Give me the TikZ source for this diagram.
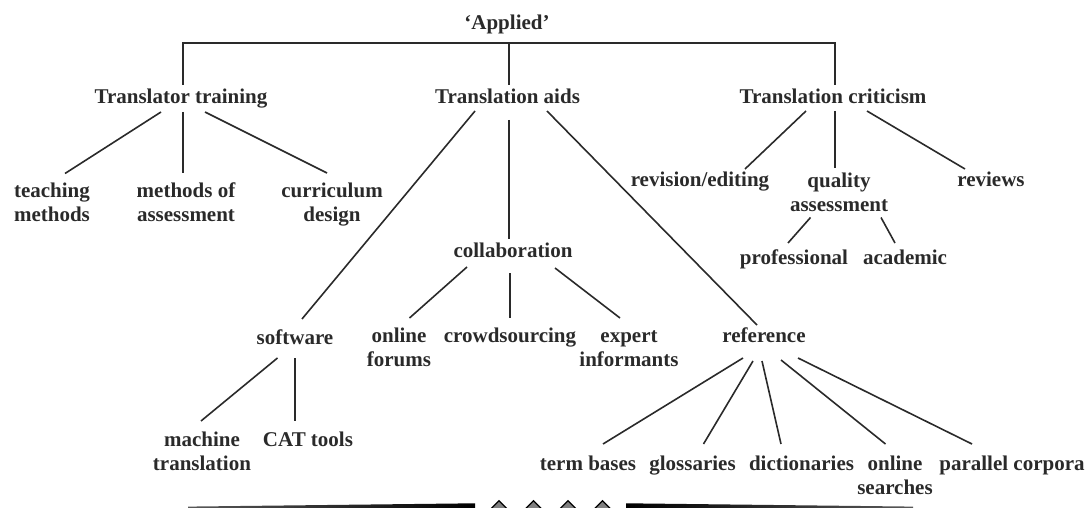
\documentclass[tikz,border=0pt]{standalone}
\usepackage{fontspec}
\setmainfont{Liberation Serif}
\usepackage{xcolor}
\usepackage{tikz}
\usetikzlibrary{positioning}
\definecolor{inkgray}{HTML}{2A2A2A}
\tikzset{
    textnode/.style = {draw=none, fill=none, rectangle, inner sep=0em, outer sep=0em, anchor=base,
      align=center, text=inkgray, font=\fontsize{21}{24}\selectfont\bfseries},
    connect/.style = {draw=inkgray, line width=1.6pt},
    ornament/.style = {draw=black, fill=gray, line width=1.2pt}
}

\begin{document}
\begin{tikzpicture}[x=1pt, y=-1pt]
    \useasboundingbox (0,0) rectangle (1088,508);

    \node [name=applied, textnode] at (507,29.5) {‘Applied’};
    \node [name=tt, below=74.5pt of applied.base, xshift=-326pt, textnode] {Translator training};
    \node [name=ta, below=74.5pt of applied.base, xshift=0.5pt, textnode] {Translation aids};
    \node [name=tc, below=74.5pt of applied.base, xshift=326pt, textnode] {Translation criticism};

    % training (two-line nodes sit on their last line)
    \node [name=teach, below=118pt of tt.base, xshift=-129pt, textnode] {teaching\\methods};
    \node [name=meth, below=118pt of tt.base, xshift=5pt, textnode] {methods of\\assessment};
    \node [name=curr, below=118pt of tt.base, xshift=151pt, textnode] {curriculum\\design};

    % aids
    \node [name=collab, below=153pt of ta.base, xshift=5.5pt, textnode] {collaboration};
    \node [name=soft, below=240pt of ta.base, xshift=-212.5pt, textnode] {software};
    \node [name=refer, below=238pt of ta.base, xshift=256.5pt, textnode] {reference};
    \node [name=forums, below=109pt of collab.base, xshift=-114pt, textnode] {online\\forums};
    \node [name=crowd, below=85pt of collab.base, xshift=-3pt, textnode] {crowdsourcing};
    \node [name=expert, below=109pt of collab.base, xshift=116pt, textnode] {expert\\informants};
    \node [name=mach, below=126pt of soft.base, xshift=-93pt, textnode] {machine\\translation};
    \node [name=cat, below=102pt of soft.base, xshift=13pt, textnode] {CAT tools};
    \node [name=term, below=128pt of refer.base, xshift=-176pt, textnode] {term bases};
    \node [name=gloss, below=128pt of refer.base, xshift=-71.5pt, textnode] {glossaries};
    \node [name=dict, below=128pt of refer.base, xshift=37.5pt, textnode] {dictionaries};
    \node [name=online, below=152pt of refer.base, xshift=131pt, textnode] {online\\searches};
    \node [name=corpora, below=128pt of refer.base, xshift=248pt, textnode] {parallel corpora};

    % criticism
    \node [name=revis, below=83pt of tc.base, xshift=-133pt, textnode] {revision/editing};
    \node [name=qual, below=107.5pt of tc.base, xshift=6pt, textnode] {quality\\assessment};
    \node [name=reviews, below=83pt of tc.base, xshift=158pt, textnode] {reviews};
    \node [name=prof, below=53.5pt of qual.base, xshift=-45pt, textnode] {professional};
    \node [name=acad, below=53.5pt of qual.base, xshift=66pt, textnode] {academic};

    % bracket under 'Applied'
    \coordinate (bar) at ([yshift=-13.5pt]applied.base);
    \coordinate (ttv) at ([xshift=2pt,yshift=19pt]tt.base);
    \coordinate (tav) at ([xshift=1.5pt,yshift=19pt]ta.base);
    \coordinate (tcv) at ([xshift=2pt,yshift=19pt]tc.base);
    \draw [connect] (ttv) |- (bar) -| (tcv);
    \draw [connect] (bar -| tav) -- (tav);

    \draw [connect] ([xshift=-20pt,yshift=-8pt]tt.base) -- ([xshift=13pt,yshift=48.5pt]teach.base);
    \draw [connect] ([xshift=2pt,yshift=-8pt]tt.base) -- ([xshift=-3pt,yshift=49pt]meth.base);
    \draw [connect] ([xshift=24pt,yshift=-8pt]tt.base) -- ([xshift=-5pt,yshift=49pt]curr.base);

    \draw [connect] ([xshift=-32.5pt,yshift=-7pt]ta.base) -- ([xshift=7pt,yshift=25pt]soft.base);
    \draw [connect] ([xshift=1.5pt,yshift=-16pt]ta.base) -- ([xshift=-4pt,yshift=18pt]collab.base);
    \draw [connect] ([xshift=39.5pt,yshift=-7pt]ta.base) -- ([xshift=-7pt,yshift=17pt]refer.base);

    \draw [connect] ([xshift=-27pt,yshift=-7pt]tc.base) -- ([xshift=45pt,yshift=18pt]revis.base);
    \draw [connect] ([xshift=2pt,yshift=-7pt]tc.base) -- ([xshift=-4pt,yshift=43pt]qual.base);
    \draw [connect] ([xshift=34pt,yshift=-7pt]tc.base) -- ([xshift=-26pt,yshift=18pt]reviews.base);

    \draw [connect] ([xshift=-28.5pt,yshift=-6pt]qual.base) -- ([xshift=-6pt,yshift=22pt]prof.base);
    \draw [connect] ([xshift=42pt,yshift=-6pt]qual.base) -- ([xshift=-10pt,yshift=22pt]acad.base);

    \draw [connect] ([xshift=-46pt,yshift=-10pt]collab.base) -- ([xshift=10.5pt,yshift=48pt]forums.base);
    \draw [connect] ([xshift=-3pt,yshift=-16pt]collab.base) -- ([yshift=24pt]crowd.base);
    \draw [connect] ([xshift=42pt,yshift=-11pt]collab.base) -- ([xshift=-9pt,yshift=48pt]expert.base);

    \draw [connect] ([xshift=-17.5pt,yshift=-14pt]soft.base) -- ([xshift=-1pt,yshift=49pt]mach.base);
    \draw [connect] ([yshift=-14pt]soft.base) -- ([xshift=-13pt,yshift=25pt]cat.base);

    \foreach \kid/\a/\b/\c/\d in {term/-21/16/15/26, gloss/-11/19/11/26, dict/-2/19/-20.5/26,
        online/17/18/-9.5/50, corpora/34/16/-40/26}
        \draw [connect] ([xshift=\a pt,yshift=-\b pt]refer.base) -- ([xshift=\c pt,yshift=\d pt]\kid.base);

    % separator at the foot
    \shade [left color=black!65, right color=black] (188,508.5) -- (188,506.6) -- (475,503.3) -- (475,508.5) -- cycle;
    \shade [left color=black, right color=black!65] (626,508.5) -- (626,503.3) -- (913,506.6) -- (913,508.5) -- cycle;
    \foreach \x in {499,533.5,568,602.5}
        \draw [ornament] (\x,500.7) -- ++(9,9) -- ++(-9,9) -- ++(-9,-9) -- cycle;
\end{tikzpicture}
\end{document}
